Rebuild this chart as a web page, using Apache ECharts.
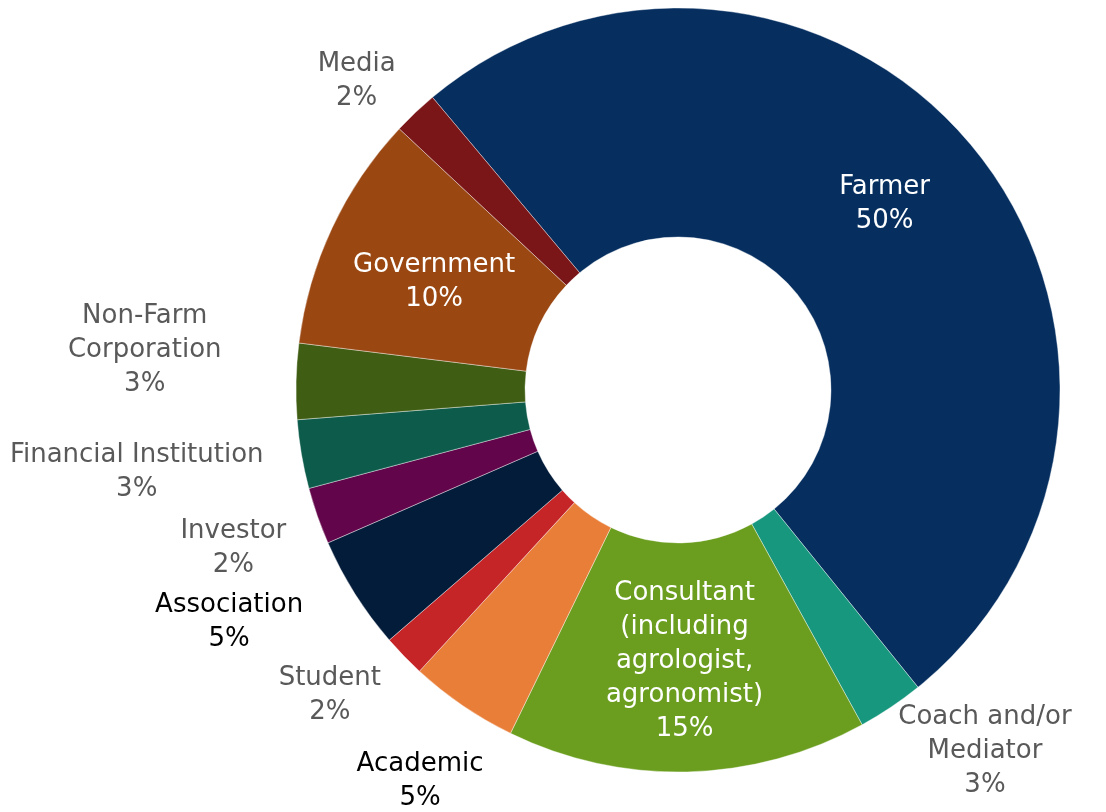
<!DOCTYPE html>
<html>
<head>
<meta charset="utf-8">
<script src="https://cdn.jsdelivr.net/npm/echarts@6/dist/echarts.min.js"></script>
<style>
html,body{margin:0;padding:0;background:#ffffff;}
#chart{width:1106px;height:812px;}
</style>
</head>
<body>
<div id="chart"></div>
<script>
// ---- data ----
const categories = ['Farmer', 'Coach and/or Mediator', 'Consultant (including agrologist, agronomist)', 'Academic', 'Student', 'Association', 'Investor', 'Financial Institution', 'Non-Farm Corporation', 'Government', 'Media'];
const values = [50.2, 2.8, 15.2, 4.6, 1.8, 4.8, 2.4, 2.9, 3.2, 10.0, 1.9];
const labelLines = ['Farmer', 'Coach and/or\nMediator', 'Consultant\n(including\nagrologist,\nagronomist)', 'Academic', 'Student', 'Association', 'Investor', 'Financial Institution', 'Non-Farm\nCorporation', 'Government', 'Media'];

// ---- styles ----
const colors = ['#062F60', '#16977E', '#6B9E1F', '#E97E38', '#C62528', '#031C3A', '#62054A', '#0C5B4B', '#3F5E13', '#9A4712', '#7A1518'];
const labelColors = ['#ffffff', '#595959', '#ffffff', '#000000', '#595959', '#000000', '#595959', '#595959', '#595959', '#ffffff', '#595959'];
// label placement: [radius from centre, angle nudge in degrees]
const labelPlace = [[280, -3], [472, -6.7], [268, 0], [466, -0.7], [461, 3.2], [504, 5.2], [471, 0], [547, 1.4], [535, 3.3], [268, -0.6], [448, -2.4]];

const CX = 678, CY = 390, R0 = 153, R1 = 382;
const START = 130; // echarts startAngle (deg, ccw from 3 o'clock)
const LABEL_DY = 3;

const total = values.reduce((a, b) => a + b, 0);
const midAngles = [];
let cum = 0;
values.forEach(v => {
  // clockwise angle from 12 o'clock
  midAngles.push((90 - START) + 360 * (cum + v / 2) / total);
  cum += v;
});

const chart = echarts.init(document.getElementById('chart'), null, {renderer: 'canvas'});
chart.setOption({
  backgroundColor: '#ffffff',
  animation: false,
  series: [{
    type: 'pie',
    center: [CX, CY],
    radius: [R0, R1],
    startAngle: START,
    clockwise: true,
    avoidLabelOverlap: false,
    itemStyle: {borderColor: '#ffffff', borderWidth: 0.4},
    label: {
      show: true,
      position: 'outside',
      fontFamily: 'DejaVu Sans',
      fontSize: 26,
      lineHeight: 34,
      align: 'center',
      formatter: p => labelLines[p.dataIndex] + '\n' + Math.round(p.percent) + '%'
    },
    labelLine: {show: false},
    labelLayout: function (p) {
      const i = p.dataIndex;
      const pl = labelPlace[i];
      const a = (midAngles[i] + pl[1]) * Math.PI / 180;
      return {
        x: CX + pl[0] * Math.sin(a),
        y: CY - pl[0] * Math.cos(a) + LABEL_DY,
        align: 'center',
        verticalAlign: 'middle'
      };
    },
    emphasis: {disabled: true},
    data: categories.map((c, i) => ({
      name: c,
      value: values[i],
      itemStyle: {color: colors[i]},
      label: {color: labelColors[i]}
    }))
  }]
});
</script>
</body>
</html>
